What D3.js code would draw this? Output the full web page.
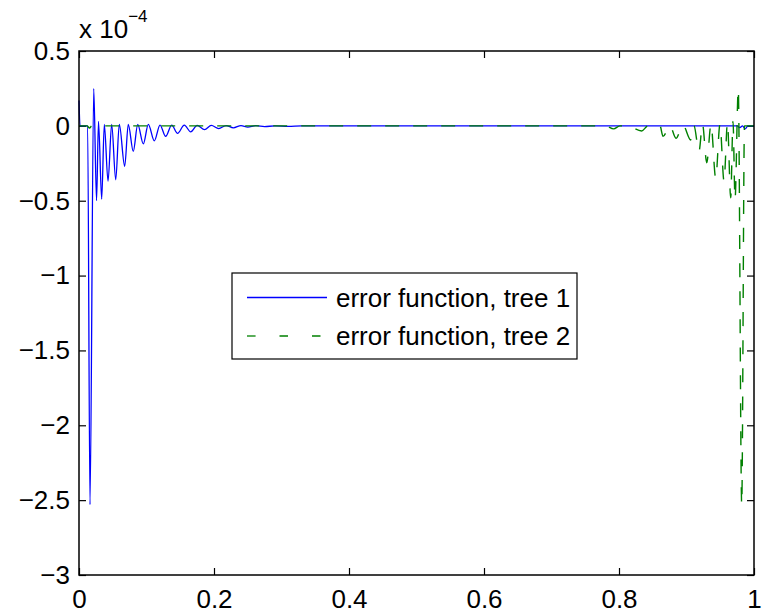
<!DOCTYPE html>
<html>
<head>
<meta charset="utf-8">
<script src="https://cdn.jsdelivr.net/npm/d3@7"></script>
<style>
  html, body { margin: 0; padding: 0; background: #fff; }
  svg text { font-family: "Liberation Sans", Arial, Helvetica, sans-serif; }
</style>
</head>
<body>
<div id="chart"></div>
<script>
// valores em unidades de 1e-4 (ver rótulo "x 10^-4")
const xTicks = [0, 0.2, 0.4, 0.6, 0.8, 1];
const yTicks = [0.5, 0, -0.5, -1, -1.5, -2, -2.5, -3];
const seriesNames = ['error function, tree 1', 'error function, tree 2'];

// árvore 1: extremos
const tree1X = [0, 0.0015, 0.0128, 0.0163, 0.0218, 0.026, 0.0289, 0.0336, 0.0375, 0.043, 0.0484, 0.0544,
  0.0597, 0.0677, 0.073, 0.0804, 0.087, 0.0953, 0.1027, 0.1116, 0.12, 0.1284, 0.1373, 0.146, 0.156,
  0.1655, 0.175, 0.186, 0.196, 0.207, 0.218, 0.2286, 0.24, 0.25, 0.262, 0.275, 0.29, 0.31, 0.33,
  0.35, 0.5, 0.7, 0.9, 0.975, 0.979, 0.983, 0.987, 0.991, 1];
const tree1Y = [0.17, 0, 0, -2.53, 0.25, -0.5, 0.03, -0.49, 0.01, -0.37, 0.01, -0.36,
  0.01, -0.27, 0.01, -0.17, 0.01, -0.12, 0.01, -0.10, 0.005, -0.07, 0.005, -0.05, 0.005,
  -0.04, 0.003, -0.025, 0.003, -0.018, 0.002, -0.013, 0.002, -0.008, 0.001, -0.005, 0, -0.003, 0,
  0, 0, 0, 0, 0, -0.012, 0, -0.02, 0, 0];

// árvore 2
const tree2X = [0, 0.012, 0.0155, 0.019, 0.1, 0.3, 0.5, 0.7, 0.78, 0.792, 0.8015, 0.812, 0.8336,
  0.843, 0.8607, 0.8652, 0.8756, 0.8844, 0.8948, 0.9062, 0.9111, 0.9185, 0.9237, 0.93, 0.9363,
  0.9433, 0.9496, 0.9556, 0.9607, 0.9655, 0.9689, 0.9719, 0.9767, 0.9818, 0.9859, 1];
const tree2Y = [0, 0, -0.015, 0, 0, 0, 0, 0, 0, -0.02, 0, 0, -0.034,
  0, 0, -0.07, 0, -0.083, 0.005, -0.094, 0, -0.17, 0.01, -0.246, 0.01,
  -0.35, 0.01, -0.37, 0.02, -0.48, 0.03, -0.49, 0.245, -2.53, 0, 0];

function drawChart() {
    const width = 771;
    const height = 616;
    const left = 79, right = 754, top = 51, bottom = 575;
    const fontSize = 26;

    const svg = d3.select('#chart')
        .append('svg')
        .attr('width', width)
        .attr('height', height);

    const x = d3.scaleLinear().domain([0, 1]).range([left, right]);
    const y = d3.scaleLinear().domain([-3, 0.5]).range([bottom, top]);

    const fmt = d => String(d).replace('-', '\u2212');

    // eixos com ticks para dentro
    const gx = svg.append('g')
        .attr('transform', `translate(0,${bottom})`)
        .call(d3.axisBottom(x).tickValues(xTicks).tickSizeInner(-7).tickSizeOuter(0).tickPadding(15).tickFormat(fmt));
    const gy = svg.append('g')
        .attr('transform', `translate(${left},0)`)
        .call(d3.axisLeft(y).tickValues(yTicks).tickSizeInner(-7).tickSizeOuter(0).tickPadding(9).tickFormat(fmt));
    const gTop = svg.append('g')
        .attr('transform', `translate(0,${top})`)
        .call(d3.axisTop(x).tickValues(xTicks).tickSizeInner(-7).tickSizeOuter(0).tickFormat(''));
    const gRight = svg.append('g')
        .attr('transform', `translate(${right},0)`)
        .call(d3.axisRight(y).tickValues(yTicks).tickSizeInner(-7).tickSizeOuter(0).tickFormat(''));

    [gx, gy, gTop, gRight].forEach(g => {
        g.select('.domain').remove();
        g.selectAll('line').attr('stroke', '#000').attr('stroke-width', 1.2);
        g.selectAll('text').attr('font-size', fontSize).attr('fill', '#000')
            .attr('font-family', '"Liberation Sans", Arial, sans-serif');
    });
    gx.selectAll('text').attr('dy', '0.68em');

    // séries
    const lineOf = (xs, ys) => d3.line()
        .x((d, i) => x(xs[i]))
        .y((d, i) => y(ys[i]))
        .curve(d3.curveMonotoneX)(xs);

    const plot = svg.append('g');
    plot.append('path')
        .attr('d', lineOf(tree1X, tree1Y))
        .attr('fill', 'none')
        .attr('stroke', '#0000ff')
        .attr('stroke-width', 1.3);
    plot.append('path')
        .attr('d', lineOf(tree2X, tree2Y))
        .attr('fill', 'none')
        .attr('stroke', '#008000')
        .attr('stroke-width', 1.4)
        .attr('stroke-dasharray', '14,14');

    // moldura
    svg.append('rect')
        .attr('x', left).attr('y', top)
        .attr('width', right - left).attr('height', bottom - top)
        .attr('fill', 'none').attr('stroke', '#000').attr('stroke-width', 1.5);

    // multiplicador
    const mult = svg.append('text').attr('x', 79).attr('y', 38).attr('font-size', fontSize).attr('fill', '#000');
    mult.append('tspan').text('x 10');
    mult.append('tspan').attr('dy', -16).attr('font-size', 17).text('\u22124');

    // legenda
    const leg = svg.append('g');
    leg.append('rect')
        .attr('x', 232).attr('y', 273)
        .attr('width', 345).attr('height', 86)
        .attr('fill', '#fff').attr('stroke', '#000').attr('stroke-width', 1.2);
    const rows = [
        { name: seriesNames[0], color: '#0000ff', dash: null, cy: 297.5 },
        { name: seriesNames[1], color: '#008000', dash: '8.5,24', cy: 336 }
    ];
    rows.forEach(r => {
        leg.append('line')
            .attr('x1', 247).attr('x2', 327)
            .attr('y1', r.cy).attr('y2', r.cy)
            .attr('stroke', r.color).attr('stroke-width', 1.3)
            .attr('stroke-dasharray', r.dash);
        leg.append('text')
            .attr('x', 336).attr('y', r.cy + 9)
            .attr('font-size', fontSize).attr('fill', '#000')
            .text(r.name);
    });
}

drawChart();
</script>
</body>
</html>
